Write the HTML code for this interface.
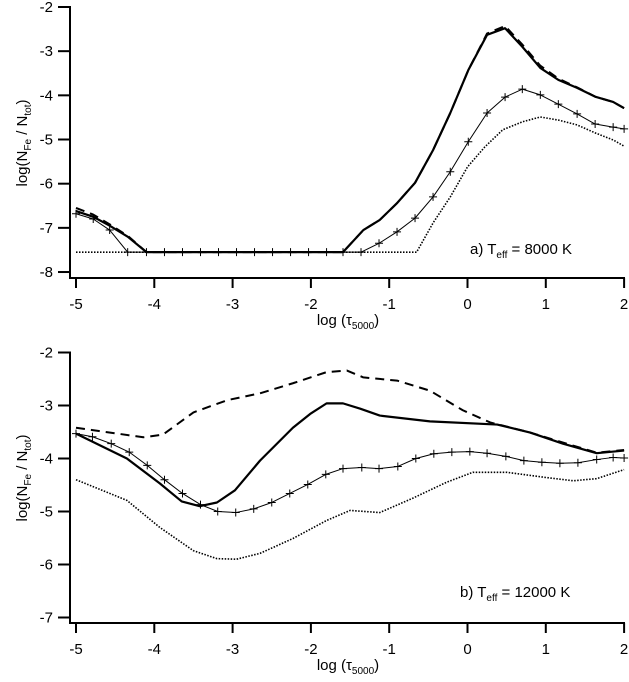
<!DOCTYPE html>
<html><head><meta charset="utf-8"><style>
body{margin:0;background:#fff;}
svg{display:block;font-family:"Liberation Sans",Arial,sans-serif;}
</style></head><body>
<svg id="chart" width="629" height="682" viewBox="0 0 629 682"></svg>
<script>
// ---- data (log tau, log N_Fe/N_tot) ----
const xTicks=[-5,-4,-3,-2,-1,0,1,2];
const yTicksA=[-2,-3,-4,-5,-6,-7,-8];
const yTicksB=[-2,-3,-4,-5,-6,-7];

const aSolidX=[-5,-4.78,-4.57,-4.34,-4.1,-1.59,-1.33,-1.12,-0.9,-0.67,-0.44,-0.22,0.01,0.25,0.48,0.7,0.93,1.16,1.4,1.63,1.86,2.0];
const aSolidY=[-6.62,-6.75,-6.95,-7.2,-7.55,-7.55,-7.05,-6.82,-6.44,-5.98,-5.24,-4.4,-3.43,-2.63,-2.48,-2.9,-3.38,-3.65,-3.83,-4.03,-4.15,-4.29];
const aDashX=[-5,-4.78,-4.57,-4.34,-4.1,-1.59,-1.33,-1.12,-0.9,-0.67,-0.44,-0.22,0.01,0.25,0.48,0.7,0.93,1.16,1.4,1.63,1.86,2.0];
const aDashY=[-6.55,-6.7,-6.92,-7.18,-7.55,-7.55,-7.05,-6.82,-6.44,-5.98,-5.24,-4.4,-3.43,-2.6,-2.43,-2.85,-3.33,-3.62,-3.82,-4.03,-4.15,-4.29];
const aCrossX=[-5,-4.78,-4.57,-4.34,-4.1,-3.87,-3.64,-3.41,-3.18,-2.95,-2.72,-2.49,-2.26,-2.03,-1.8,-1.59,-1.36,-1.13,-0.9,-0.67,-0.44,-0.22,0.01,0.25,0.48,0.7,0.93,1.16,1.4,1.63,1.86,2.0];
const aCrossY=[-6.68,-6.8,-7.05,-7.55,-7.55,-7.55,-7.55,-7.55,-7.55,-7.55,-7.55,-7.55,-7.55,-7.55,-7.55,-7.55,-7.55,-7.35,-7.09,-6.78,-6.3,-5.73,-5.05,-4.4,-4.04,-3.86,-3.99,-4.2,-4.42,-4.65,-4.72,-4.76];
const aDotX=[-5,-0.65,-0.44,-0.22,0.0,0.22,0.45,0.7,0.93,1.16,1.4,1.63,1.86,2.0];
const aDotY=[-7.55,-7.55,-6.89,-6.3,-5.62,-5.17,-4.78,-4.6,-4.49,-4.56,-4.67,-4.85,-5.01,-5.15];

const bDashX=[-5,-4.14,-3.89,-3.5,-3.07,-2.65,-2.23,-1.8,-1.54,-1.33,-0.9,-0.48,-0.06,0.29,0.8,1.22,1.65,2.0];
const bDashY=[-3.42,-3.6,-3.55,-3.13,-2.9,-2.77,-2.58,-2.37,-2.34,-2.47,-2.53,-2.72,-3.09,-3.32,-3.51,-3.7,-3.89,-3.84];
const bSolidX=[-5,-4.35,-3.93,-3.65,-3.42,-3.2,-2.97,-2.65,-2.23,-2.01,-1.8,-1.59,-1.37,-1.12,-0.48,0.38,0.8,1.22,1.65,2.0];
const bSolidY=[-3.53,-4.0,-4.47,-4.81,-4.9,-4.83,-4.6,-4.04,-3.42,-3.16,-2.96,-2.96,-3.06,-3.19,-3.3,-3.36,-3.51,-3.72,-3.9,-3.85];
const bCrossX=[-5,-4.79,-4.55,-4.32,-4.09,-3.87,-3.64,-3.41,-3.19,-2.96,-2.73,-2.5,-2.27,-2.04,-1.81,-1.59,-1.35,-1.13,-0.89,-0.66,-0.43,-0.2,0.03,0.25,0.49,0.72,0.95,1.18,1.41,1.65,1.86,2.0];
const bCrossY=[-3.53,-3.59,-3.72,-3.88,-4.13,-4.4,-4.66,-4.87,-5.0,-5.02,-4.95,-4.83,-4.66,-4.49,-4.3,-4.19,-4.17,-4.19,-4.15,-4.0,-3.91,-3.88,-3.87,-3.9,-3.96,-4.04,-4.07,-4.09,-4.08,-4.02,-3.98,-3.99];
const bDotX=[-5,-4.35,-3.93,-3.5,-3.2,-2.95,-2.65,-2.23,-1.8,-1.5,-1.12,-0.7,-0.27,0.07,0.5,1.01,1.35,1.65,2.0];
const bDotY=[-4.4,-4.79,-5.3,-5.74,-5.89,-5.9,-5.79,-5.51,-5.17,-4.98,-5.02,-4.75,-4.45,-4.26,-4.26,-4.36,-4.42,-4.38,-4.21];

const NS="http://www.w3.org/2000/svg";
const svg=document.getElementById('chart');
function el(tag,attrs,parent){const e=document.createElementNS(NS,tag);for(const k in attrs)e.setAttribute(k,attrs[k]);(parent||svg).appendChild(e);return e;}
const xs=v=>76+(v+5)*78.3;

function panel(p){
  const g=el('g',{});
  
  
  const ys=v=>p.y0+(-2-v)*p.dy;
  const ya=el('line',{x1:70,y1:ys(-2)-1,x2:70,y2:p.ax+1,stroke:'#000','stroke-width':2},g);
  
  
  const xa=el('line',{x1:69,y1:p.ax,x2:625,y2:p.ax,stroke:'#000','stroke-width':2},g);
  
  
  p.yt.forEach(v=>{
    el('line',{x1:58,y1:ys(v),x2:70,y2:ys(v),stroke:'#000','stroke-width':2},g);
    const t=el('text',{x:53,y:ys(v)+5,'text-anchor':'end','font-size':15},g);
    t.textContent=String(v);
    
    
  });
  xTicks.forEach(v=>{
    el('line',{x1:xs(v),y1:p.ax,x2:xs(v),y2:p.ax+10,stroke:'#000','stroke-width':2},g);
    const t=el('text',{x:xs(v),y:p.ax+31,'text-anchor':'middle','font-size':15},g);
    t.textContent=String(v);
    
    
  });
  const xt=el('text',{x:348,y:p.ax+47,'text-anchor':'middle','font-size':15},g);
  xt.innerHTML='log (τ<tspan font-size="10" dy="4">5000</tspan><tspan dy="-4">)</tspan>';
  
  
  const yt=el('text',{x:0,y:0,'text-anchor':'middle','font-size':15,transform:`translate(27,${p.ytc}) rotate(-90)`},g);
  yt.innerHTML='log(N<tspan font-size="10" dy="4">Fe</tspan><tspan dy="-4"> / N</tspan><tspan font-size="10" dy="4">tot</tspan><tspan dy="-4">)</tspan>';
  
  
  const lab=el('text',{x:p.lx,y:p.ly,'font-size':15},g);
  lab.innerHTML=p.lab1+'T<tspan font-size="10" dy="4">eff</tspan><tspan dy="-4"> = '+p.lab2+'</tspan>';
  
  
  const line=(X,Y,st,name)=>{
    const pl=el('polyline',Object.assign({points:X.map((x,i)=>xs(x)+','+ys(Y[i])).join(' '),fill:'none',stroke:'#000','stroke-linejoin':'round'},st),g);
    
    
  };
  line(p.dotX,p.dotY,{'stroke-width':1.6,'stroke-dasharray':'1.5,1.5'},'dotted-series');
  line(p.crossX,p.crossY,{'stroke-width':1},'cross-series');
  p.crossX.forEach((x,i)=>{
    const cx=xs(x),cy=ys(p.crossY[i]);
    const c=el('path',{d:`M${cx-4},${cy}H${cx+4}M${cx},${cy-4}V${cy+4}`,stroke:'#000','stroke-width':1},g);
    
    
  });
  line(p.dashX,p.dashY,{'stroke-width':2,'stroke-dasharray':'9,6'},'dashed-series');
  line(p.solX,p.solY,{'stroke-width':2.2},'solid-series');
}
panel({name:'panel-a-8000K',y0:7,dy:44.17,ax:278,yt:yTicksA,ytc:143,lx:470,ly:254,lab1:'a) ',lab2:'8000 K',
  solX:aSolidX,solY:aSolidY,dashX:aDashX,dashY:aDashY,crossX:aCrossX,crossY:aCrossY,dotX:aDotX,dotY:aDotY});
panel({name:'panel-b-12000K',y0:352.5,dy:53,ax:623,yt:yTicksB,ytc:478,lx:460,ly:597,lab1:'b) ',lab2:'12000 K',
  solX:bSolidX,solY:bSolidY,dashX:bDashX,dashY:bDashY,crossX:bCrossX,crossY:bCrossY,dotX:bDotX,dotY:bDotY});
</script>
</body></html>
